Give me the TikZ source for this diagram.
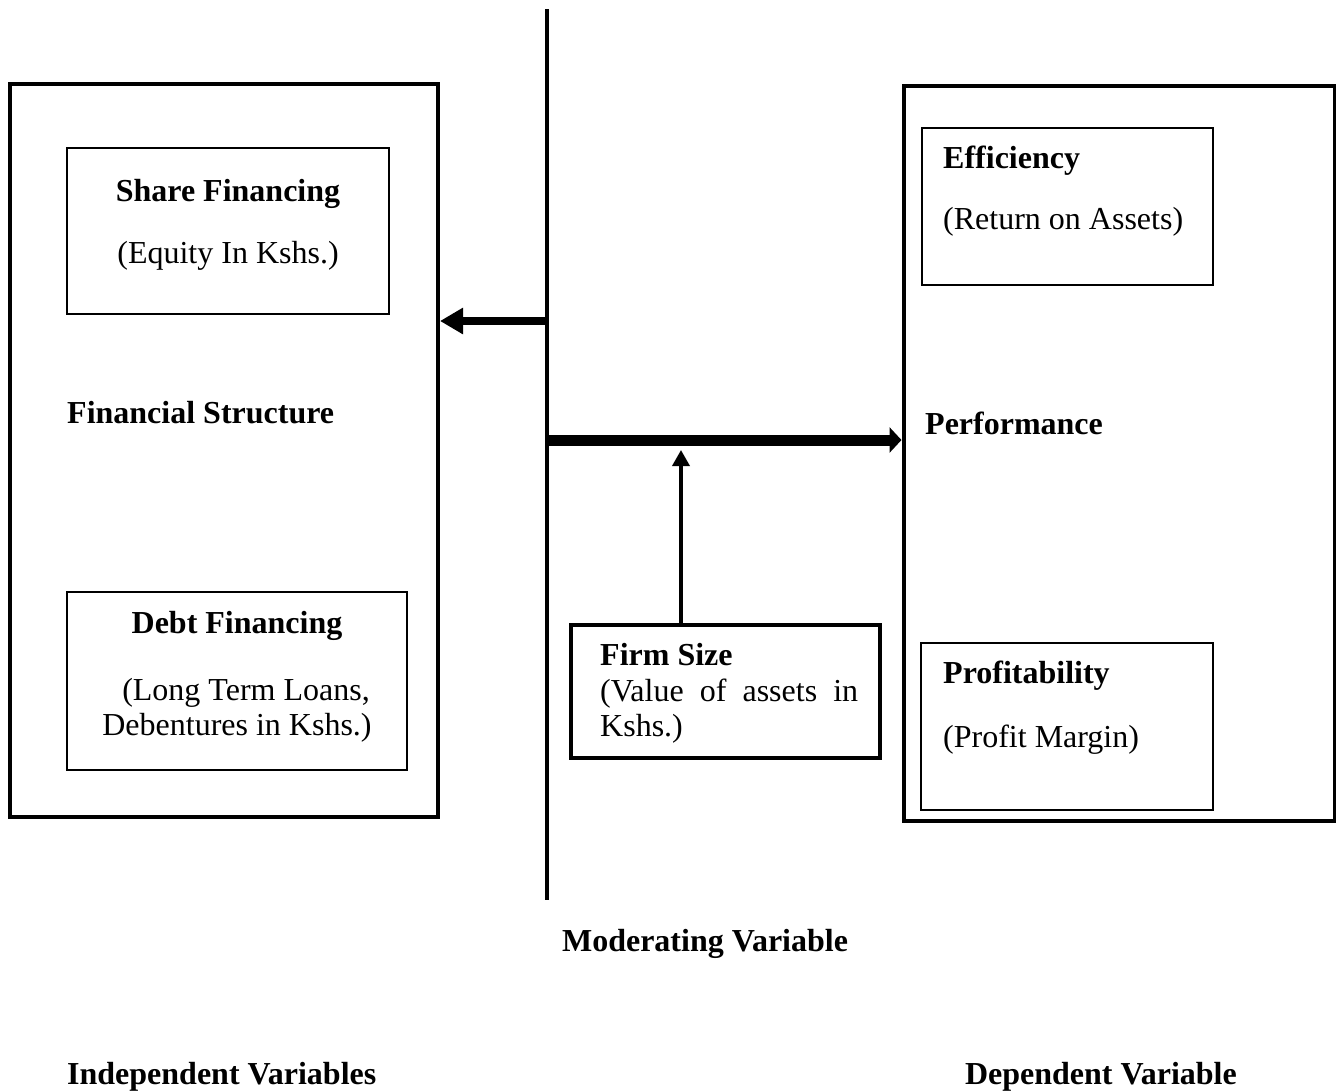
\documentclass[tikz,border=0pt]{standalone}
\usepackage{fontspec}
\setmainfont{Liberation Serif}
\usetikzlibrary{arrows.meta}
\tikzset{
  outerbox/.style={draw, line width=4pt, inner sep=0pt},
  innerbox/.style={draw, line width=2pt, inner sep=0pt},
  lbl/.style={inner sep=0pt, anchor=base west, font=\fontsize{32}{38}\selectfont},
  clbl/.style={inner sep=0pt, anchor=base, font=\fontsize{32}{38}\selectfont},
  rlbl/.style={inner sep=0pt, anchor=base east, font=\fontsize{32}{38}\selectfont},
}
\begin{document}
\begin{tikzpicture}[x=1pt,y=-1pt]
\useasboundingbox (0,0) rectangle (1336,1090);
% boxes
\node[outerbox, minimum width=428pt, minimum height=733pt] (fs) at (224,450) {};
\node[innerbox, minimum width=322pt, minimum height=166pt] (share) at (228,231) {};
\node[innerbox, minimum width=340pt, minimum height=178pt] (debt) at (237,681) {};
\node[outerbox, minimum width=309pt, minimum height=133pt] (firm) at (725.5,691) {};
\node[outerbox, minimum width=431pt, minimum height=735pt] (perf) at (1119,453.5) {};
\node[innerbox, minimum width=291pt, minimum height=157pt] (eff) at (1067.5,206.5) {};
\node[innerbox, minimum width=292pt, minimum height=167pt] (prof) at (1067,726.5) {};
% vertical line
\coordinate (vtop) at (547,9);
\coordinate (vbot) at (547,900);
\draw[line width=4pt] (vtop) -- (vbot);
% arrows
\coordinate (la) at (547,321);
\coordinate (ra) at (547,440);
\draw[line width=8pt, -{Triangle[length=23pt,width=25pt]}] (la) -- (fs.east |- la);
\draw[line width=11pt, -{Triangle[length=12pt,width=25pt]}] (ra) -- (perf.west |- ra);
\coordinate (upend) at (681,450);
\draw[line width=3.5pt, -{Triangle[length=16pt,width=17pt]}] (firm.north -| upend) -- (upend);
% texts
\node[clbl] (t1) at (228,201) {\bfseries Share Financing};
\node[clbl] (t2) at (228,263) {(Equity In Kshs.)};
\node[lbl] (t3) at (67,423) {\bfseries Financial Structure};
\node[clbl] (t4) at (237,633) {\bfseries Debt Financing};
\node[clbl] (t5) at (246,700) {(Long Term Loans,};
\node[clbl] (t6) at (237,735) {Debentures in Kshs.)};
\node[lbl] (t7) at (600,665) {\bfseries Firm Size};
\node[lbl] (t8) at (600,701) {\hbox to 258pt{(Value\hfill of\hfill assets\hfill in}};
\node[lbl] (t9) at (600,736) {Kshs.)};
\node[lbl] (t10) at (943,168) {\bfseries Efficiency};
\node[lbl] (t11) at (943,229) {(Return on Assets)};
\node[lbl] (t12) at (925,434) {\bfseries Performance};
\node[lbl] (t13) at (943,683) {\bfseries Profitability};
\node[lbl] (t14) at (943,747) {(Profit Margin)};
\node[clbl] (t15) at (705,951) {\bfseries Moderating Variable};
\node[lbl] (t16) at (67,1084) {\bfseries Independent Variables};
\node[rlbl] (t17) at (1237,1084) {\bfseries Dependent Variable};
\end{tikzpicture}
\end{document}
